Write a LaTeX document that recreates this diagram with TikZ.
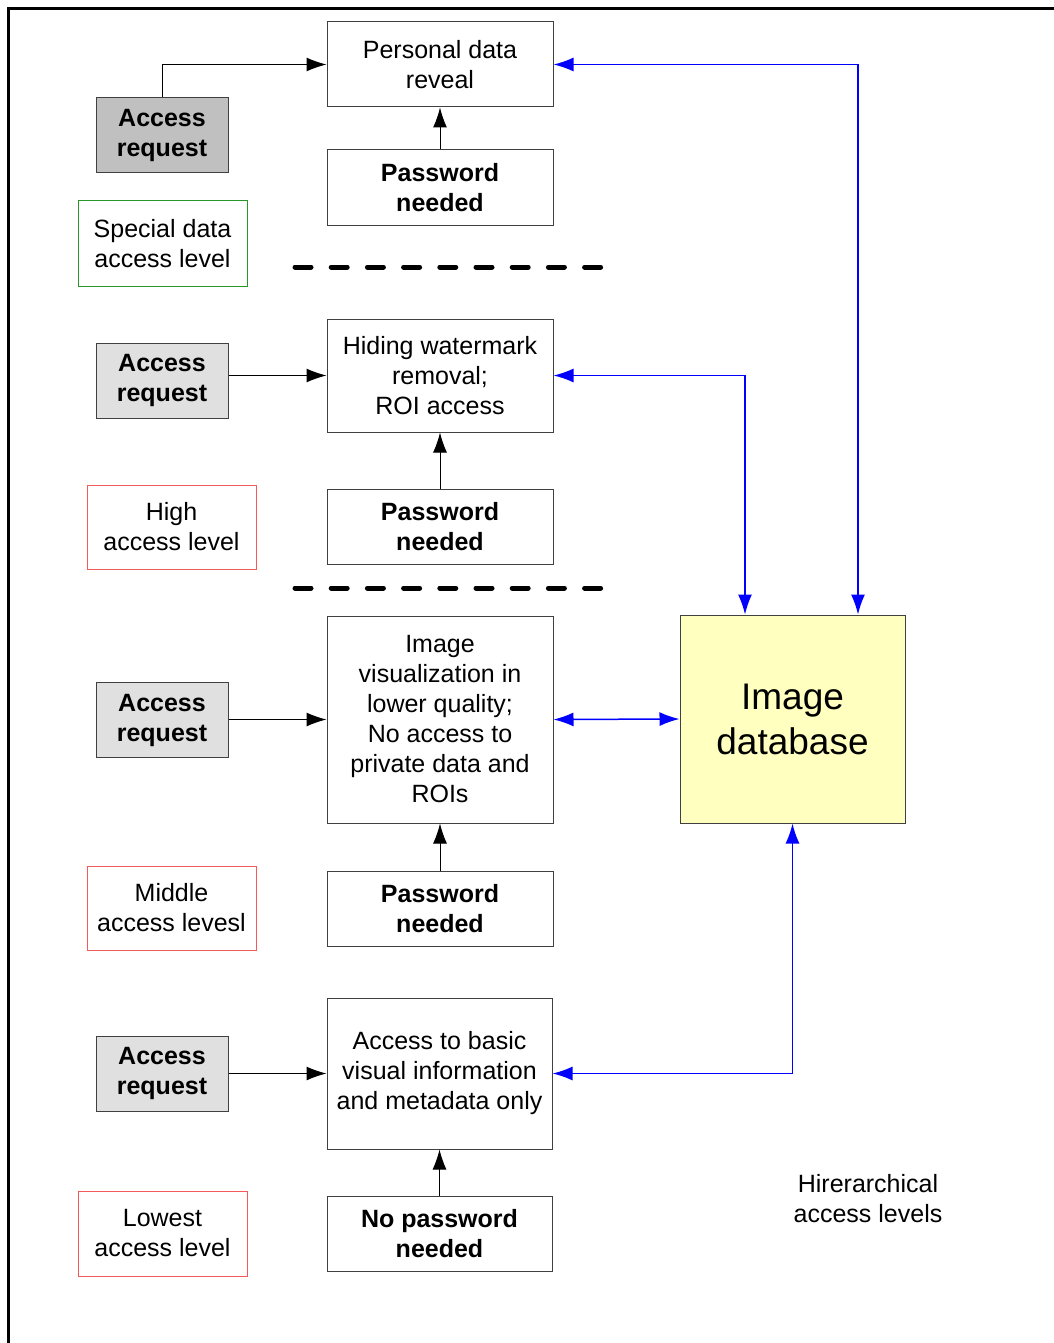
\documentclass[tikz,border=0pt]{standalone}
\usepackage{fontspec}
\setmainfont{Liberation Sans}
\usepackage{xcolor}
\usepackage{tikz}
\usetikzlibrary{arrows.meta, positioning}

\definecolor{reqdark}{RGB}{192,192,192}
\definecolor{reqlight}{RGB}{224,224,224}
\definecolor{dbyellow}{RGB}{255,255,192}
\definecolor{lvlgreen}{RGB}{40,150,40}
\definecolor{lvlred}{RGB}{245,90,90}
\definecolor{linkblue}{RGB}{0,0,255}

\begin{document}
\begin{tikzpicture}[x=1pt, y=-1pt,
    every node/.style={font=\fontsize{25}{30}\selectfont, align=center, inner sep=0pt},
    reqbox/.style={draw=black!75, line width=1pt, fill=reqlight, minimum width=132pt, minimum height=75pt, font=\fontsize{25}{30}\selectfont\bfseries},
    infobox/.style={draw=black!75, line width=1pt, minimum width=226pt},
    pwdbox/.style={draw=black!75, line width=1pt, minimum width=226pt, minimum height=75pt, font=\fontsize{25}{30}\selectfont\bfseries},
    lvlbox/.style={draw=#1, line width=1pt, minimum width=169pt, minimum height=85pt},
    dbbox/.style={draw=black!75, line width=1pt, fill=dbyellow, minimum width=225pt, minimum height=208pt, font=\fontsize{37}{45}\selectfont},
    reqarrow/.style={-{Latex[length=20pt,width=14pt]}, line width=1pt},
    dblink/.style={{Latex[length=20pt,width=14pt]}-{Latex[length=20pt,width=14pt]}, linkblue, line width=1.5pt},
    levelsep/.style={line width=5pt, line cap=round, dash pattern=on 16pt off 20.2pt}]

    \useasboundingbox (0,0) rectangle (1054,1343);

    % =================================================================
    % FRAME
    % =================================================================
    \draw[line width=3pt] (8.5,1343) -- (8.5,8.5) -- (1054,8.5);

    % =================================================================
    % SPECIAL DATA ACCESS LEVEL
    % =================================================================
    \node[reqbox, fill=reqdark] (ar1) at (162,135) {Access\\request};
    \node[infobox, minimum height=85pt] (reveal) at (440,64.5) {Personal data\\reveal};
    \node[pwdbox] (pw1) at (440,187.5) {Password\\needed};
    \node[lvlbox=lvlgreen] (lvl1) at (162.5,243.5) {Special data\\access level};

    \draw[reqarrow] (ar1.north) |- (reveal.west);
    \draw[reqarrow] (pw1.north) -- (reveal.south);

    % separator
    \draw[levelsep] (295,267) -- (601,267);

    % =================================================================
    % HIGH ACCESS LEVEL
    % =================================================================
    \node[reqbox] (ar2) at (162,380.5) {Access\\request};
    \node[infobox, minimum height=113pt] (hide) at (440,375.5) {Hiding watermark\\removal;\\ROI access};
    \node[pwdbox] (pw2) at (440,526.5) {Password\\needed};
    \node[lvlbox=lvlred, minimum height=84pt] (lvl2) at (171.5,527) {High\\access level};

    \draw[reqarrow] (ar2.east |- hide.west) -- (hide.west);
    \draw[reqarrow] (pw2.north) -- (hide.south);

    % separator
    \draw[levelsep] (295,588) -- (601,588);

    % =================================================================
    % MIDDLE ACCESS LEVEL
    % =================================================================
    \node[reqbox] (ar3) at (162,720) {Access\\request};
    \node[infobox, minimum height=207pt] (lowq) at (440,719.5) {Image\\visualization in\\lower quality;\\No access to\\private data and\\ROIs};
    \node[pwdbox] (pw3) at (440,908.5) {Password\\needed};
    \node[lvlbox=lvlred, minimum height=84pt] (lvl3) at (171.5,908) {Middle\\access levesl};

    \draw[reqarrow] (ar3.east |- lowq.west) -- (lowq.west);
    \draw[reqarrow] (pw3.north) -- (lowq.south);

    % =================================================================
    % LOWEST ACCESS LEVEL
    % =================================================================
    \node[reqbox] (ar4) at (162,1073.5) {Access\\request};
    \node[infobox, minimum width=225pt, minimum height=151pt] (basic) at (439.5,1073.5) {Access to basic\\visual information\\and metadata only};
    \node[pwdbox, minimum width=225pt] (pw4) at (439.5,1233.5) {No password\\needed};
    \node[lvlbox=lvlred] (lvl4) at (162.5,1233.5) {Lowest\\access level};

    \draw[reqarrow] (ar4.east |- basic.west) -- (basic.west);
    \draw[reqarrow] (pw4.north) -- (basic.south);

    % =================================================================
    % IMAGE DATABASE
    % =================================================================
    \node[dbbox] (db) at (792.5,719) {Image\\database};
    \node (note) at (868,1199) {Hirerarchical\\access levels};

    \draw[dblink] (reveal.east) -| ([xshift=65.5pt]db.north);
    \draw[dblink] (hide.east) -| ([xshift=-47.5pt]db.north);
    \draw[dblink] (lowq.east) -- (db.west);
    \draw[dblink] (basic.east) -| (db.south);

\end{tikzpicture}
\end{document}
